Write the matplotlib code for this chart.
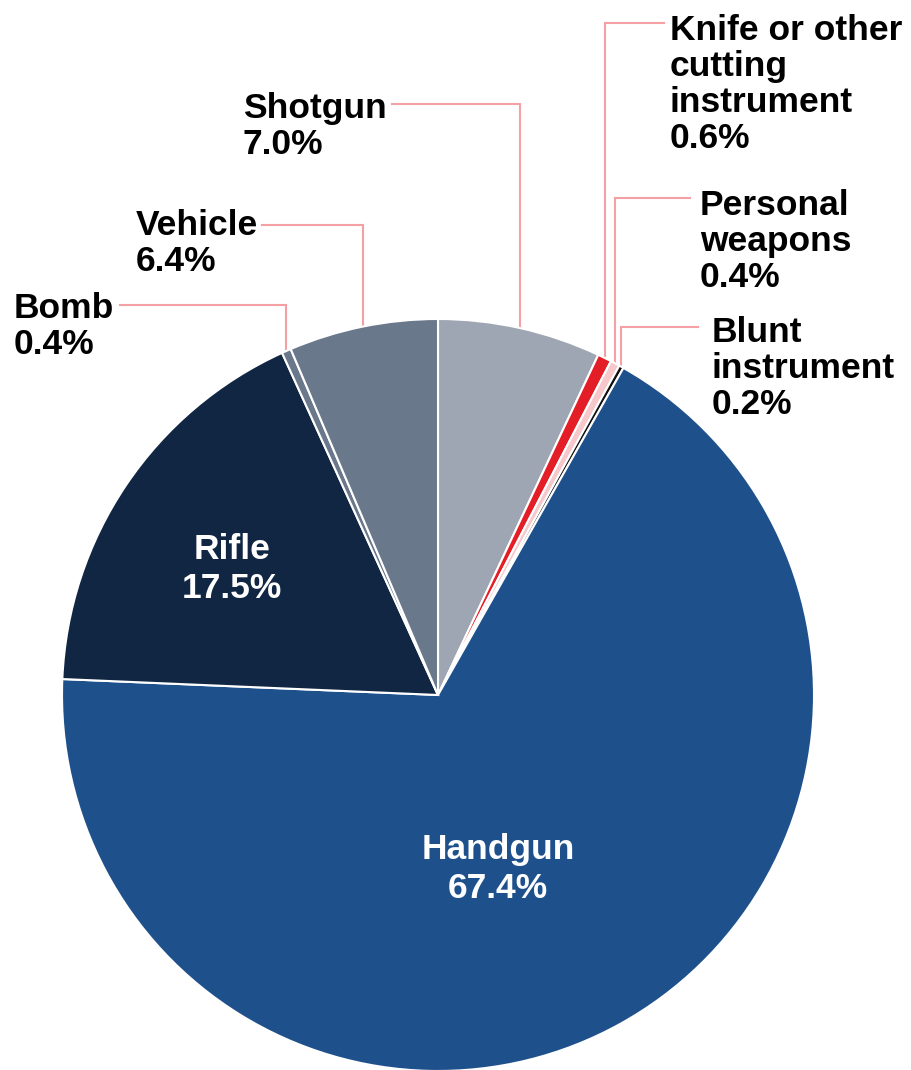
import matplotlib.pyplot as plt
import numpy as np

plt.rcParams['font.family'] = ['Liberation Sans', 'DejaVu Sans']

# data (clockwise from 12 o'clock)
weapons = ['Shotgun', 'Knife or other\ncutting\ninstrument', 'Personal\nweapons',
           'Blunt\ninstrument', 'Handgun', 'Rifle', 'Bomb', 'Vehicle']
shares = [7.0, 0.6, 0.4, 0.2, 67.4, 17.5, 0.4, 6.4]
colors = ['#9fa6b3', '#e31e26', '#f6c7cb', '#111111', '#1e518c', '#112643', '#6a788b', '#6a788b']

W, H = 912, 1070
cx, cy, R = 438, H - 695, 376

fig = plt.figure(figsize=(W / 100, H / 100), dpi=100)
ax = fig.add_axes([0, 0, 1, 1])

wedges, _ = ax.pie(shares, colors=colors, startangle=90, counterclock=False,
                   center=(cx, cy), radius=R,
                   wedgeprops=dict(edgecolor='white', linewidth=1.5))
ax.set_xlim(0, W)
ax.set_ylim(0, H)
ax.set_aspect('equal')
ax.axis('off')

lead = '#f4a0a4'
fs = 25.5
# outside labels: (index, text x, text top, line y, line start x) in pixels from top-left
outside = [
    (0, 243, 92, 104, 392),
    (7, 136, 209, 225, 262),
    (6, 14, 292, 305, 120),
    (1, 670, 14, 23, 664),
    (2, 700, 189, 198, 690),
    (3, 712, 316, 327, 698),
]
for i, tx, ty, ly, lx0 in outside:
    w = wedges[i]
    mid = np.deg2rad((w.theta1 + w.theta2) / 2)
    x = cx + R * np.cos(mid)
    yedge = cy + np.sqrt(R ** 2 - (x - cx) ** 2)
    ax.plot([lx0, x, x], [H - ly, H - ly, yedge], color=lead, lw=1.5,
            solid_joinstyle='miter', zorder=0)
    ax.text(tx, H - ty, f'{weapons[i]}\n{shares[i]:.1f}%', ha='left', va='top',
            fontsize=fs, fontweight='bold', color='black', linespacing=1.11)

# inside labels
for i, (px, py) in [(5, (232, 569)), (4, (498, 869))]:
    ax.text(px, H - py, f'{weapons[i]}\n{shares[i]:.1f}%', ha='center', va='center',
            fontsize=fs, fontweight='bold', color='white', linespacing=1.2)

fig.savefig('out.png', dpi=100, facecolor='white')
